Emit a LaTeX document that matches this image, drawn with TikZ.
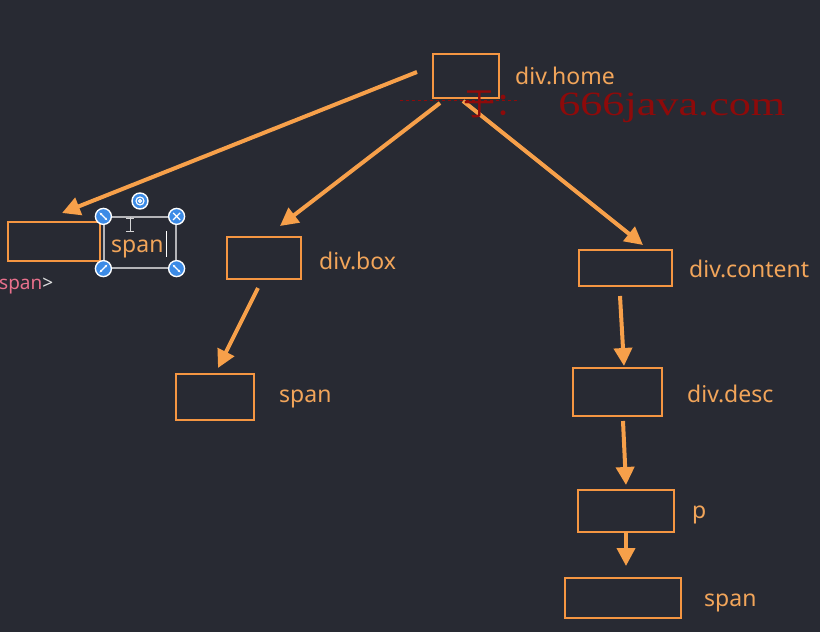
\documentclass[tikz,border=0pt]{standalone}
\usepackage{fontspec}
\setmainfont{Noto Sans}
\newfontfamily\wmfont{Liberation Serif}
\newfontfamily\cjkfont{Noto Sans CJK SC}
\usetikzlibrary{arrows.meta,calc}
\definecolor{bg}{HTML}{282A33}
\definecolor{org}{HTML}{F7A04A}
\definecolor{boxc}{HTML}{F59642}
\definecolor{txt}{HTML}{F2A55A}
\definecolor{pinkc}{HTML}{E8708C}
\definecolor{hblue}{HTML}{3C8BE6}
\definecolor{wmred}{HTML}{8E0A0A}
\tikzset{
  elem/.style={draw=boxc, line width=1.6pt, inner sep=0pt, fill=bg},
  lbl/.style={text=txt, font=\fontsize{23}{26}\selectfont, anchor=base west, inner sep=0pt},
  arr/.style={draw=org, line width=4pt, -{Triangle[length=18pt,width=18pt]}},
  handle/.style={circle, fill=hblue, draw=white, line width=1.4pt, minimum size=16pt, inner sep=0pt}
}
\begin{document}
\begin{tikzpicture}[x=1pt,y=-1pt]
\fill[bg] (0,0) rectangle (820,632);
\useasboundingbox (0,0) rectangle (820,632);

% element boxes
\node[elem, minimum width=66pt, minimum height=44pt] (home) at (466,76) {};
\node[elem, minimum width=92pt, minimum height=39pt] (spanL) at (54,241.5) {};
\node[elem, minimum width=74pt, minimum height=42pt] (box) at (264,258) {};
\node[elem, minimum width=78pt, minimum height=46pt] (spanB) at (215,397) {};
\node[elem, minimum width=93pt, minimum height=36pt] (content) at (625.5,268) {};
\node[elem, minimum width=89pt, minimum height=48pt] (desc) at (617.5,392) {};
\node[elem, minimum width=96pt, minimum height=42pt] (p) at (626,511) {};
\node[elem, minimum width=116pt, minimum height=40pt] (spanC) at (623,598) {};

% labels
\node[lbl] (lhome) at (515,84) {div.home};
\node[lbl] (lbox) at (319,269) {div.box};
\node[lbl] (lspanB) at (279,402) {span};
\node[lbl] (lcontent) at (689,277) {div.content};
\node[lbl] (ldesc) at (687,402) {div.desc};
\node[lbl] (lp) at (692,518) {p};
\node[lbl] (lspanC) at (704,606) {span};

% editor remnants
\node[text=pinkc, font=\fontsize{19}{22}\selectfont, anchor=base west, inner sep=0pt] (tag) at (-1,289) {span\textcolor{white!85!bg}{>}};
\node[draw=white!65!bg, line width=1.2pt, minimum width=72pt, minimum height=51pt, inner sep=0pt] (sel) at (140,242.5) {};
\node[lbl] (lspanL) at (111,252) {span};
\draw[white, line width=1pt] (166,231) -- (166,257);
\draw[white!80!bg, line width=1pt] (130,217) -- (130,232) (126,218) -- (134,218) (126,231) -- (134,231);
\node[handle] (h1) at (sel.north west) {};
\node[handle] (h2) at (sel.north east) {};
\node[handle] (h3) at (sel.south west) {};
\node[handle] (h4) at (sel.south east) {};
\node[handle] (hr) at (140,201) {};
\draw[white, line width=1.1pt] (140,201) circle (1.5pt);
\draw[white, line width=1.1pt] (140,201) circle (4pt);
\draw[white, line width=1.2pt] ($(h2)+(-3.5,-3.5)$) -- ($(h2)+(3.5,3.5)$) ($(h2)+(3.5,-3.5)$) -- ($(h2)+(-3.5,3.5)$);
\draw[white, line width=1.1pt, <->, >={Stealth[length=3pt]}] ($(h1)+(-4,-4)$) -- ($(h1)+(4,4)$);
\draw[white, line width=1.1pt, <->, >={Stealth[length=3pt]}] ($(h4)+(-4,-4)$) -- ($(h4)+(4,4)$);
\draw[white, line width=1.1pt, <->, >={Stealth[length=3pt]}] ($(h3)+(4,-4)$) -- ($(h3)+(-4,4)$);

% connector coordinates
\coordinate (s1) at (417,72);  \coordinate (e1) at (62,213);
\coordinate (s2) at (440,103); \coordinate (e2) at (280,226);
\coordinate (s3) at (463,101); \coordinate (e3) at (643,245);
\coordinate (s4) at (258,288); \coordinate (e4) at (218,368);
\coordinate (s5) at (620,296); \coordinate (e5) at (624,366);
\coordinate (s6) at (623,421); \coordinate (e6) at (626,485);
\coordinate (s7) at (626,532); \coordinate (e7) at (626,566);

\draw[arr] (s1) -- (e1);
\draw[arr] (s2) -- (e2);
\draw[arr] (s3) -- (e3);
\draw[arr] (s4) -- (e4);
\draw[arr] (s5) -- (e5);
\draw[arr] (s6) -- (e6);
\draw[arr] (s7) -- (e7);

% watermark (overlay)
\draw[wmred, line width=0.8pt, dashed] (400,100) -- (520,100);
\node[text=wmred, font=\cjkfont\fontsize{32}{34}\selectfont, anchor=base west, inner sep=0pt] (wmzh) at (463,115) {于：};
\node[text=wmred, font=\wmfont\fontsize{34}{36}\selectfont, anchor=base west, inner sep=0pt, xscale=1.3] (wm) at (558,115) {666java.com};
\end{tikzpicture}
\end{document}
